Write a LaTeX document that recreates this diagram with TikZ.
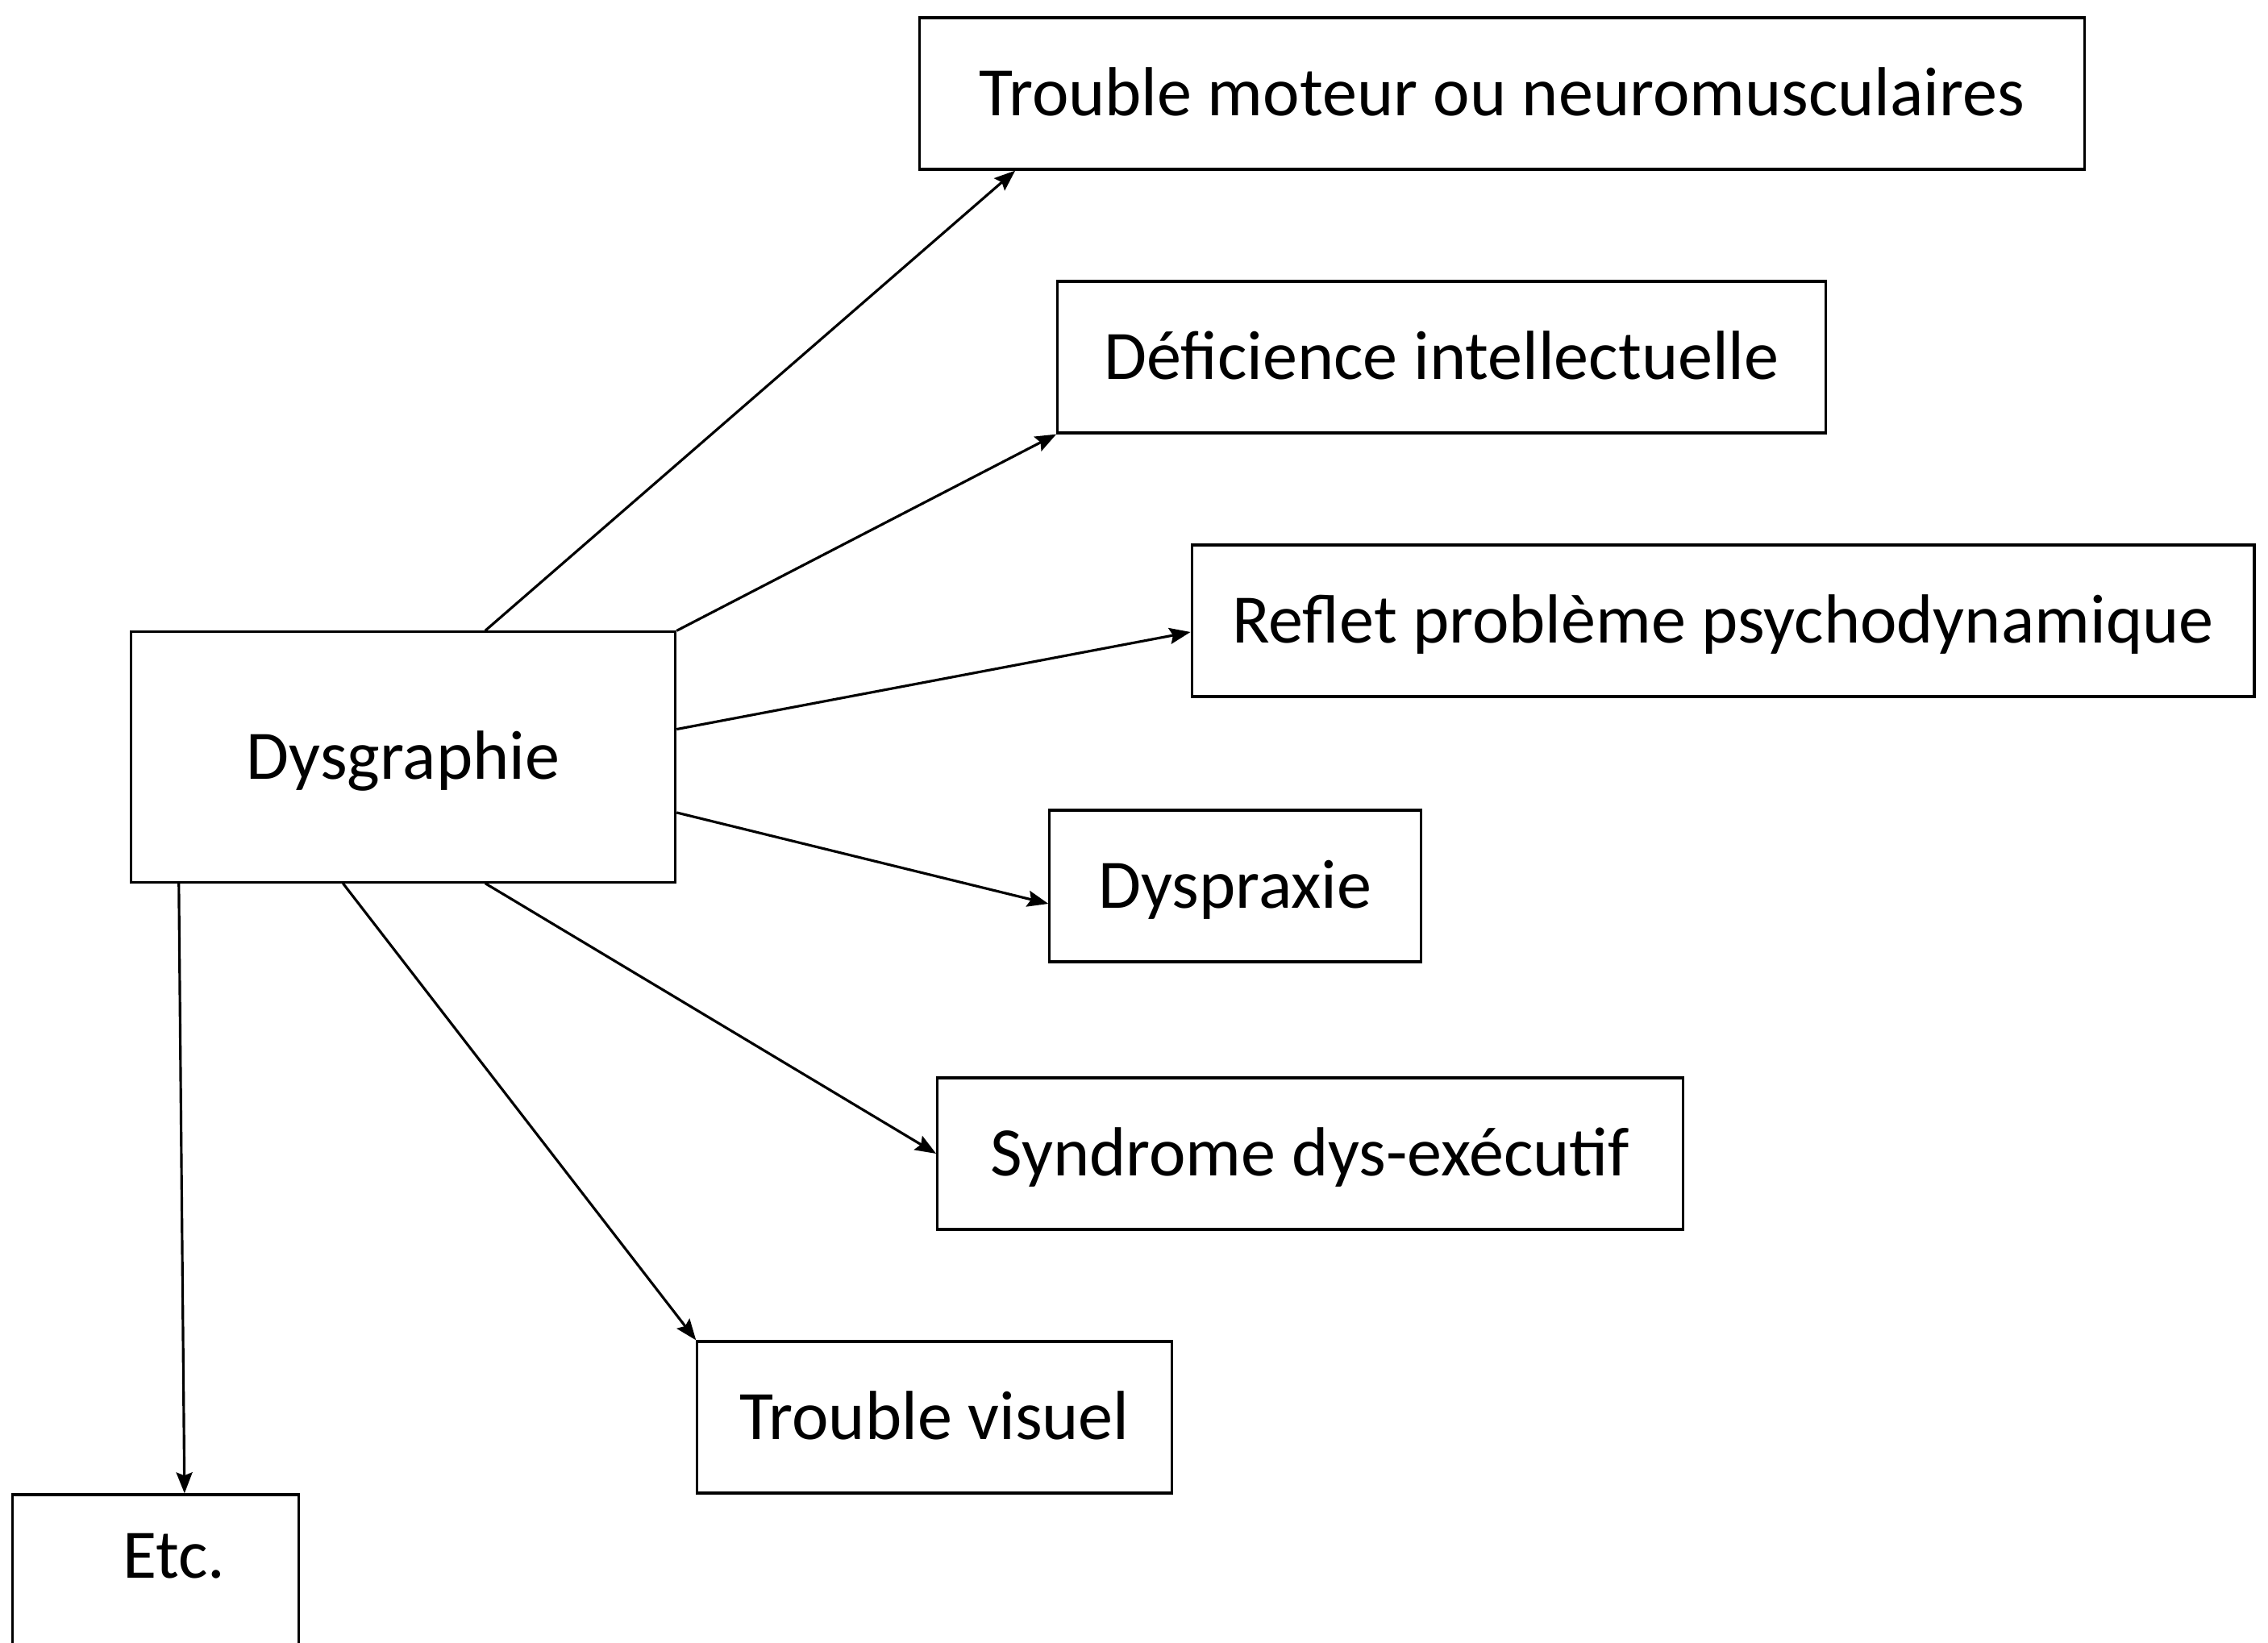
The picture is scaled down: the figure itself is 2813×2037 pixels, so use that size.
\documentclass[tikz,border=0pt]{standalone}
\usepackage{fontspec}
\setmainfont{Carlito}
\usetikzlibrary{calc, arrows.meta}

\tikzset{boite/.style={draw, line width=0.9pt, minimum height=1.88cm, text height=0.55cm, text depth=0cm, inner sep=0pt}}

\begin{document}
\begin{tikzpicture}[x=0.01cm, y=-0.01cm, font=\fontsize{24.5}{29}\selectfont]
			\useasboundingbox (0,0) rectangle (2813,2037);

			\node[boite, minimum width=6.75cm, minimum height=3.1cm] (dys) at (500,939) {Dysgraphie};
			\node[boite, minimum width=14.44cm] (moteur) at (1863,116) {Trouble moteur ou neuromusculaires};
			\node[boite, minimum width=9.52cm] (deficience) at (1788,443) {Déficience intellectuelle};
			\node[boite, minimum width=13.17cm] (reflet) at (2137,770) {Reflet problème psychodynamique};
			\node[boite, minimum width=4.6cm] (dyspraxie) at (1532,1099) {Dyspraxie};
			\node[boite, minimum width=9.24cm] (syndrome) at (1625,1431) {Syndrome dys-exécutif};
			\node[boite, minimum width=5.88cm] (visuel) at (1159,1758) {Trouble visuel};
			\node[boite, minimum width=3.55cm, text depth=0.36cm] (etc) at (193,1948) {\hspace{0.46cm}Etc.};

			\begin{scope}[-{Stealth[length=0.26cm, width=0.2cm, inset=0.04cm]}, line width=0.9pt]
				\draw ($(dys.north west)!0.65!(dys.north east)$) -- ($(moteur.south west)!0.083!(moteur.south east)$);
				\draw (dys.north east) -- (deficience.south west);
				\draw ($(dys.north east)!0.39!(dys.south east)$) -- ($(reflet.west)+(0,14)$);
				\draw ($(dys.north east)!0.72!(dys.south east)$) -- ($(dyspraxie.west)+(0,22)$);
				\draw ($(dys.south west)!0.65!(dys.south east)$) -- (syndrome.west);
				\draw ($(dys.south west)!0.39!(dys.south east)$) -- (visuel.north west);
				\draw ($(dys.south west)!0.09!(dys.south east)$) -- ($(etc.north west)!0.6!(etc.north east)$);
			\end{scope}
		\end{tikzpicture}
\end{document}
